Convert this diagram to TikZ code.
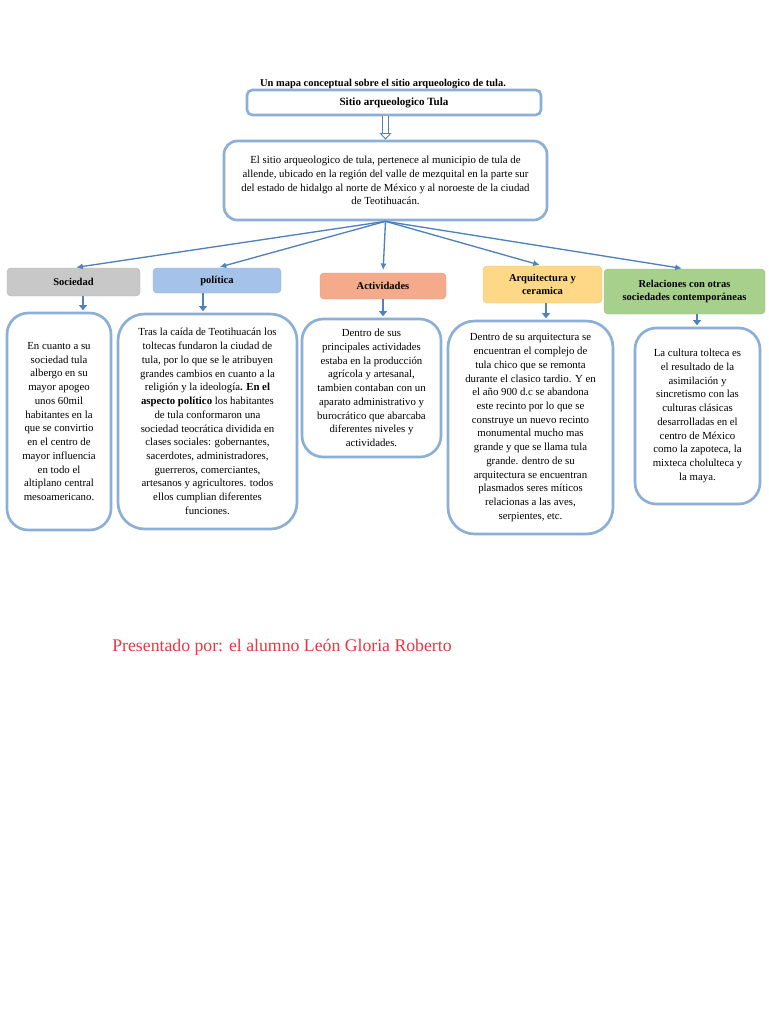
\documentclass[tikz,border=0pt]{standalone}
\usepackage{fontspec}
\setmainfont{Liberation Serif}
\usepackage{tikz}
\usetikzlibrary{arrows.meta}

\definecolor{lineblue}{RGB}{79,129,189}
\definecolor{frameblue}{RGB}{140,175,215}
\definecolor{catgray}{RGB}{200,200,200}
\definecolor{catblue}{RGB}{165,194,232}
\definecolor{catsalmon}{RGB}{245,170,140}
\definecolor{catyellow}{RGB}{254,216,135}
\definecolor{catgreen}{RGB}{168,208,141}
\definecolor{namered}{RGB}{232,55,65}

\begin{document}
\begin{tikzpicture}[x=0.75pt, y=-0.75pt,
	every node/.style={font=\fontsize{8.1}{10.3}\selectfont, align=center, inner sep=2pt},
	frame/.style={draw=frameblue, line width=2pt, fill=white, rounded corners=#1},
	frame/.default=14pt,
	cat/.style={draw=#1!90!black, line width=0.3pt, fill=#1, rounded corners=3pt, font=\fontsize{7.9}{10}\selectfont\bfseries},
	fan/.style={lineblue, line width=1pt, -{Latex[length=5pt, width=4.5pt]}, shorten >=2pt},
	dn/.style={lineblue, line width=2.2pt, -{Triangle[length=4pt, width=6pt]}, shorten >=1pt},
	hollow/.style={draw=lineblue!80!gray, double=white, double distance=3.6pt, line width=0.7pt, -{Triangle[open, length=5pt, width=9pt]}}]
	\useasboundingbox[fill=white] (0,0) rectangle (768,1024);
	% head of the map
	\node[font=\fontsize{7.85}{9}\selectfont\bfseries] (title) at (383,84) {Un mapa conceptual sobre el sitio arqueologico de tula.};
	\node[frame=4pt, font=\fontsize{8.3}{9}\selectfont\bfseries, minimum width=220.5pt, minimum height=18.75pt] (tula) at (394,102.5) {Sitio arqueologico Tula};
	\node[frame=10pt, minimum width=242.25pt, minimum height=59.25pt] (desc) at (385.5,180.5) {El sitio arqueologico de tula, pertenece al municipio de tula de\\ allende, ubicado en la región del valle de mezquital en la parte sur\\ del estado de hidalgo al norte de México y al noroeste de la ciudad\\ de Teotihuacán.};
	\draw[hollow] (tula.south -| desc.north) -- (desc.north);
	% categories
	\node[cat=catgray, minimum width=99.75pt, minimum height=21pt] (socC) at (73.5,282) {Sociedad};
	\node[cat=catblue, minimum width=96pt, minimum height=18.75pt] (polC) at (217,280.5) {política};
	\node[cat=catsalmon, minimum width=94.5pt, minimum height=19.5pt] (actC) at (383,286) {Actividades};
	\node[cat=catyellow, minimum width=89.25pt, minimum height=27.75pt] (arqC) at (542.5,284.5) {Arquitectura y\\ ceramica};
	\node[cat=catgreen, minimum width=120.75pt, minimum height=33.75pt] (relC) at (684.5,291.5) {Relaciones con otras\\ sociedades contemporáneas};
	\foreach \c in {socC, polC, actC, arqC, relC} {\draw[fan] (desc.south) -- (\c.north);}
	% explanations
	\node[frame=16pt, minimum width=78pt, minimum height=162.75pt] (socT) at (59,421.5) {En cuanto a su\\ sociedad tula\\ albergo en su\\ mayor apogeo\\ unos 60mil\\ habitantes en la\\ que se convirtio\\ en el centro de\\ mayor influencia\\ en todo el\\ altiplano central\\ mesoamericano.};
	\node[frame=20pt, minimum width=134.25pt, minimum height=161.25pt] (polT) at (207.5,421.5) {Tras la caída de Teotihuacán los\\ toltecas fundaron la ciudad de\\ tula, por lo que se le atribuyen\\ grandes cambios en cuanto a la\\ religión y la ideología\textbf{. En el}\\ \textbf{aspecto político} los habitantes\\ de tula conformaron una\\ sociedad teocrática dividida en\\ clases sociales: gobernantes,\\ sacerdotes, administradores,\\ guerreros, comerciantes,\\ artesanos y agricultores. todos\\ ellos cumplian diferentes\\ funciones.};
	\node[frame=16pt, minimum width=104.25pt, minimum height=103.5pt] (actT) at (371.5,388) {Dentro de sus\\ principales actividades\\ estaba en la producción\\ agrícola y artesanal,\\ tambien contaban con un\\ aparato administrativo y\\ burocrático que abarcaba\\ diferentes niveles y\\ actividades.};
	\node[frame=20pt, minimum width=123.75pt, minimum height=159.75pt] (arqT) at (530.5,427.5) {Dentro de su arquitectura se\\ encuentran el complejo de\\ tula chico que se remonta\\ durante el clasico tardio. Y en\\ el año 900 d.c se abandona\\ este recinto por lo que se\\ construye un nuevo recinto\\ monumental mucho mas\\ grande y que se llama tula\\ grande. dentro de su\\ arquitectura se encuentran\\ plasmados seres míticos\\ relacionas a las aves,\\ serpientes, etc.};
	\node[frame=16pt, minimum width=93.75pt, minimum height=132pt] (relT) at (697.5,416) {La cultura tolteca es\\ el resultado de la\\ asimilación y\\ sincretismo con las\\ culturas clásicas\\ desarrolladas en el\\ centro de México\\ como la zapoteca, la\\ mixteca cholulteca y\\ la maya.};
	\foreach \c/\t/\dx in {socC/socT/9.5, polC/polT/-14, actC/actT/0, arqC/arqT/3.5, relC/relT/12.5}
		{\draw[dn] ([xshift=\dx*0.75pt]\c.south) -- ([xshift=\dx*0.75pt]\c.south |- \t.north);}
	% author
	\node[font=\fontsize{13.3}{15}\selectfont, text=namered] (author) at (282,647) {Presentado por: el alumno León Gloria Roberto};
\end{tikzpicture}
\end{document}
